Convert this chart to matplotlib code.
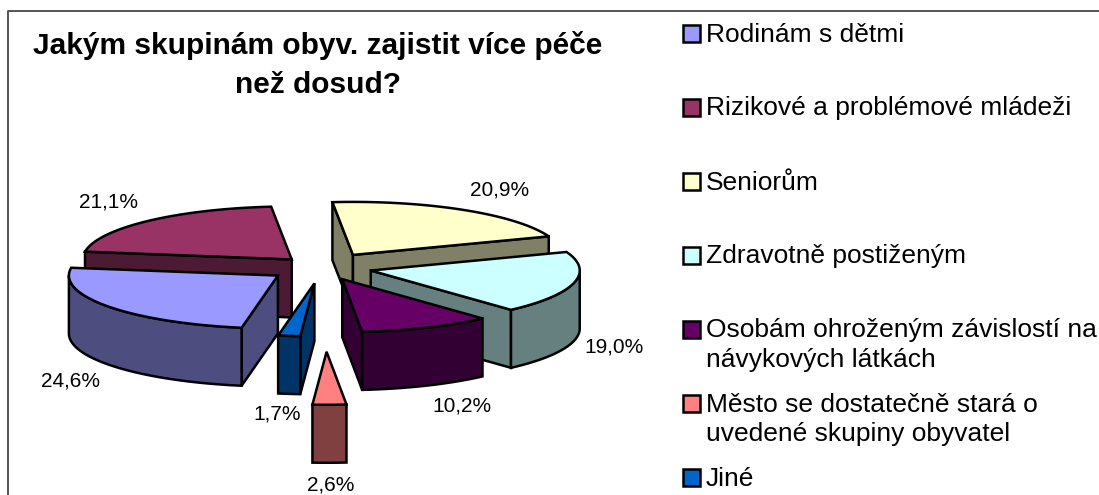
import numpy as np
import matplotlib
matplotlib.use('Agg')
import matplotlib.pyplot as plt
from matplotlib.colors import to_rgb
from matplotlib.patches import Polygon, Rectangle

plt.rcParams['font.family'] = ['Liberation Sans', 'DejaVu Sans']

# chart data
categories = ['Rodinám s dětmi', 'Rizikové a problémové mládeži', 'Seniorům',
              'Zdravotně postiženým', 'Osobám ohroženým závislostí na\nnávykových látkách',
              'Město se dostatečně stará o\nuvedené skupiny obyvatel', 'Jiné']
values = [24.6, 21.1, 20.9, 19.0, 10.2, 2.6, 1.7]
colors = ['#9999FF', '#993366', '#FFFFCC', '#CCFFFF', '#660066', '#FF8080', '#0066CC']
explode = [0.26, 0.21, 0.28, 0.24, 0.24, 1.59, 0.30]

# pie geometry in pixels
center_x, center_y = 322, 267.5
radius_x, radius_y = 209, 53
depth = 58
start_angle = 190
edge_w = 1.8

# where the percent labels sit
label_x = [70, 109, 500, 614, 462, 331, 277]
label_y = [380, 201, 189, 346, 405, 484, 413]

fig = plt.figure(figsize=(10.99, 4.95), dpi=100)
ax = fig.add_axes([0, 0, 1, 1])
ax.set_xlim(0, 1099)
ax.set_ylim(495, 0)
ax.axis('off')

# chart border, only top and left are inside the crop
ax.plot([7.5, 7.5, 1099], [495, 10.5, 10.5], color='#555555', lw=1.4, zorder=1)


def point(t, ox, oy):
    return ox + radius_x * np.sin(t), oy - radius_y * np.cos(t)


def poly(pts, color, z):
    ax.add_patch(Polygon(pts, closed=True, facecolor=color, edgecolor='black',
                         lw=edge_w, joinstyle='miter', zorder=z))


# work out the slice angles, clockwise from the start
total = sum(values)
angles = [np.radians(start_angle)]
for v in values:
    angles.append(angles[-1] + v / total * 2 * np.pi)

mids = [(angles[i] + angles[i + 1]) / 2 for i in range(len(values))]
order = sorted(range(len(values)), key=lambda i: -np.cos(mids[i]))

z = 2
for i in order:
    t0, t1 = angles[i], angles[i + 1]
    ox = center_x + explode[i] * radius_x * np.sin(mids[i])
    oy = center_y - explode[i] * radius_y * np.cos(mids[i])
    dark = tuple(c * 0.5 for c in to_rgb(colors[i]))

    # radial walls, only the ones turned to the viewer
    for t, visible in [(t0, np.sin(t0) < 0), (t1, np.sin(t1) > 0)]:
        if visible:
            x, y = point(t, ox, oy)
            poly([(ox, oy), (x, y), (x, y + depth), (ox, oy + depth)], dark, z)
            z += 1

    # outer wall, front half of the rim only
    a0 = t0 % (2 * np.pi)
    a1 = a0 + (t1 - t0)
    lo, hi = max(a0, np.pi / 2), min(a1, 3 * np.pi / 2)
    if hi > lo:
        ts = np.linspace(lo, hi, 60)
        xs, ys = point(ts, ox, oy)
        pts = list(zip(xs, ys)) + list(zip(xs[::-1], ys[::-1] + depth))
        poly(pts, dark, z)
        z += 1

    # top face
    ts = np.linspace(t0, t1, 80)
    xs, ys = point(ts, ox, oy)
    poly([(ox, oy)] + list(zip(xs, ys)), colors[i], z)
    z += 1

# percent labels
for i, v in enumerate(values):
    ax.text(label_x[i], label_y[i] + 1, f'{v:.1f}%'.replace('.', ','), fontsize=15,
            ha='center', va='center', color='black', zorder=50)

# title
ax.text(318, 46, 'Jakým skupinám obyv. zajistit více péče', fontsize=21.5, fontweight='bold',
        ha='center', va='center', zorder=50)
ax.text(318, 85, 'než dosud?', fontsize=21.5, fontweight='bold',
        ha='center', va='center', zorder=50)

# legend
for i, name in enumerate(categories):
    y = 33 + i * 74
    ax.add_patch(Rectangle((682.5, y - 8.5), 17, 17, facecolor=colors[i], edgecolor='black',
                           lw=1.8, zorder=50))
    lines = name.split('\n')
    for k, line in enumerate(lines):
        ax.text(706, y + 1.5 + k * 30, line, fontsize=19, ha='left', va='center', zorder=50)

fig.savefig('out.png', dpi=100)
